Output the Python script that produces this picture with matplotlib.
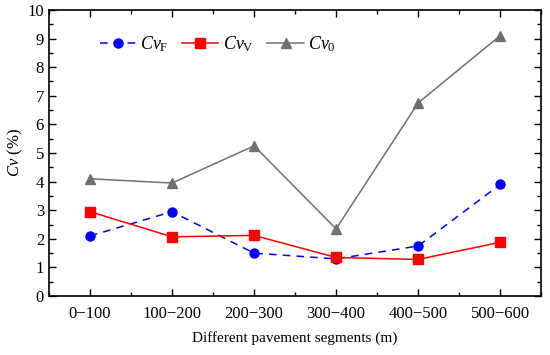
import matplotlib.pyplot as plt
from matplotlib.ticker import MultipleLocator

plt.rcParams['font.family'] = ['Liberation Serif', 'DejaVu Serif']
plt.rcParams['mathtext.fontset'] = 'custom'
plt.rcParams['mathtext.rm'] = 'Liberation Serif'
plt.rcParams['mathtext.it'] = 'Liberation Serif:italic'

segments = ["0\u2212100", "100\u2212200", "200\u2212300", "300\u2212400", "400\u2212500", "500\u2212600"]
cv_f = [2.1, 2.95, 1.5, 1.3, 1.75, 3.9]
cv_v = [2.95, 2.07, 2.12, 1.35, 1.28, 1.88]
cv_0 = [4.1, 3.95, 5.25, 2.35, 6.75, 9.1]

x = list(range(len(segments)))

fig = plt.figure(figsize=(5.5, 3.55), dpi=100)
ax = fig.add_axes([0.089, 0.166, 0.895, 0.806])

ax.plot(x, cv_f, color='blue', linestyle=(0, (5, 4)), lw=1.1, marker='o', ms=6.5,
        label=r'$\mathit{Cv}_{\mathrm{F}}$')
ax.plot(x, cv_v, color='red', lw=1.1, marker='s', ms=6.5,
        label=r'$\mathit{Cv}_{\mathrm{V}}$')
ax.plot(x, cv_0, color='#707070', lw=1.1, marker='^', ms=7.5,
        label=r'$\mathit{Cv}_{0}$')

ax.set_xlim(-0.5, 5.5)
ax.set_ylim(0, 10)
ax.set_xticks(x)
ax.set_xticklabels(segments)
ax.xaxis.set_minor_locator(MultipleLocator(0.5))
ax.yaxis.set_major_locator(MultipleLocator(1))
ax.yaxis.set_minor_locator(MultipleLocator(0.5))
ax.tick_params(which='both', direction='in', top=True, right=True, labelsize=12, width=1)
ax.tick_params(which='major', length=5)
ax.tick_params(which='minor', length=3)
ax.tick_params(axis='x', pad=7)
for s in ax.spines.values():
    s.set_linewidth(1.2)

ax.set_xlabel('Different pavement segments (m)', fontsize=11, labelpad=7)
ax.set_ylabel(r'$\mathit{Cv}$ (%)', fontsize=12, labelpad=2)

ax.legend(loc='upper left', bbox_to_anchor=(0.07, 0.97), ncol=3, frameon=False,
          fontsize=13, handlelength=2.0, columnspacing=0.75, handletextpad=0.25)

fig.savefig('out.png', dpi=100)
